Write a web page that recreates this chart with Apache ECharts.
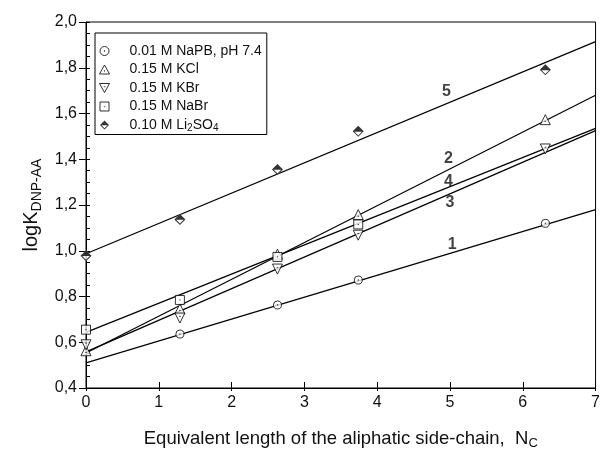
<!DOCTYPE html>
<html>
<head>
<meta charset="utf-8">
<script src="https://cdn.jsdelivr.net/npm/echarts@6/dist/echarts.min.js"></script>
<style>
  html, body { margin: 0; padding: 0; background: #fff; }
  #chart { width: 603px; height: 455px; }
</style>
</head>
<body>
<div id="chart"></div>
<script>
const names = ['0.01 M NaPB, pH 7.4', '0.15 M KCl', '0.15 M KBr', '0.15 M NaBr', '0.10 M Li2SO4']
const xNaPB = [1.29, 2.63, 3.74, 6.31]
const yNaPB = [0.636, 0.763, 0.872, 1.12]
const xKCl = [0, 1.29, 2.63, 3.74, 6.31]
const yKCl = [0.563, 0.746, 0.985, 1.158, 1.573]
const xKBr = [0, 1.29, 2.63, 3.74, 6.31]
const yKBr = [0.589, 0.706, 0.92, 1.068, 1.445]
const xNaBr = [0, 1.29, 2.63, 3.74]
const yNaBr = [0.655, 0.785, 0.973, 1.115]
const xLi = [0, 1.29, 2.63, 3.74, 6.31]
const yLi = [0.978, 1.137, 1.355, 1.522, 1.791]

// fitted straight lines: value at x = 0 and at x = 7
const fitX = [0, 7]
const fit1 = [0.51, 1.18]
const fit2 = [0.553, 1.68]
const fit3 = [0.558, 1.525]
const fit4 = [0.643, 1.535]
const fit5 = [0.987, 1.914]

// line numbers
const tagText = ['1', '2', '3', '4', '5']
const tagX = [5.03, 4.98, 5.0, 4.98, 4.95]
const tagY = [1.028, 1.403, 1.21, 1.304, 1.694]

const xTicks = [0, 7, 1]
const yTicks = [0.4, 2.0, 0.2]

const FONT = 'Liberation Sans, Arial, Helvetica, sans-serif'

// marker shapes (outline + small centre dot)
const symCircle = 'path://M5,0 A5,5 0 1,1 4.99,0 Z M5,4.6 A0.4,0.4 0 1,1 4.99,4.6 Z'
const symUp = 'path://M5,0 L10,9 L0,9 Z M5,5.6 L5.4,6 L5,6.4 L4.6,6 Z'
const symDown = 'path://M0,0 L10,0 L5,9 Z M5,2.6 L5.4,3 L5,3.4 L4.6,3 Z'
const symSquare = 'path://M0,0 L10,0 L10,10 L0,10 Z M5,4.6 L5.4,5 L5,5.4 L4.6,5 Z'
const symDiamond = 'path://M0,5 L5,0 L10,5 L5,10 Z'
// black upper half, open lower half
const symHalf = 'path://M0,5 L5,0 L10,5 L5,10 Z M1.6,5.3 L5,8.7 L8.4,5.3 Z'

const zip = (xs, ys) => xs.map((x, i) => [x, ys[i]])

const openItem = { color: '#fff', borderColor: '#000', borderWidth: 1 }

function pointSeries(name, xs, ys, symbol, size) {
  return {
    name: name,
    type: 'scatter',
    data: zip(xs, ys),
    symbol: symbol,
    symbolSize: size,
    itemStyle: openItem,
    z: 5,
    silent: true
  }
}

function fitSeries(ys) {
  return {
    type: 'line',
    data: zip(fitX, ys),
    symbol: 'none',
    lineStyle: { color: '#000', width: 1.2 },
    z: 3,
    silent: true
  }
}

const chart = echarts.init(document.getElementById('chart'), null, { renderer: 'canvas' })

const option = {
  animation: false,
  backgroundColor: '#fff',
  textStyle: { fontFamily: FONT },
  grid: {
    left: 86,
    right: 1,
    top: 22,
    bottom: 66,
    show: true,
    borderColor: '#000',
    borderWidth: 1
  },
  legend: {
    data: [
      { name: names[0], itemStyle: openItem },
      { name: names[1], itemStyle: openItem },
      { name: names[2], itemStyle: openItem },
      { name: names[3], itemStyle: openItem },
      { name: names[4], itemStyle: { color: '#000', borderWidth: 0 } }
    ],
    orient: 'vertical',
    left: 95,
    top: 33,
    padding: [11, 5, 1, 4],
    itemGap: 4.5,
    itemWidth: 40,
    itemHeight: 9,
    borderColor: '#000',
    borderWidth: 1,
    selectedMode: false,
    textStyle: {
      fontFamily: FONT,
      fontSize: 14,
      color: '#111',
      rich: {
        s: { fontSize: 10, padding: [7, 0, 0, 0] }
      }
    },
    formatter: function (n) {
      return n === names[4] ? '0.10 M Li{s|2}SO{s|4}' : n
    }
  },
  xAxis: [
    {
      type: 'value',
      min: xTicks[0],
      max: xTicks[1],
      interval: xTicks[2],
      position: 'bottom',
      name: 'Equivalent length of the aliphatic side-chain,  N{s|C}',
      nameLocation: 'middle',
      nameGap: 40,
      nameTextStyle: {
        fontFamily: FONT,
        fontSize: 18.5,
        color: '#111',
        rich: { s: { fontSize: 13, padding: [9, 0, 0, 0] } }
      },
      axisLine: { lineStyle: { color: '#000', width: 1 } },
      axisTick: { inside: true, length: 6, lineStyle: { color: '#000' } },
      axisLabel: { fontFamily: FONT, fontSize: 16, color: '#111', margin: 7 },
      splitLine: { show: false }
    },
    {
      type: 'value',
      min: xTicks[0],
      max: xTicks[1],
      interval: xTicks[2],
      position: 'bottom',
      axisLine: { show: false },
      axisTick: { inside: false, length: 3, lineStyle: { color: '#000' } },
      axisLabel: { show: false },
      splitLine: { show: false }
    }
  ],
  yAxis: [
    {
      type: 'value',
      min: yTicks[0],
      max: yTicks[1],
      interval: yTicks[2],
      name: 'logK{s|DNP-AA}',
      nameLocation: 'middle',
      nameRotate: 90,
      nameGap: 42,
      nameTextStyle: {
        fontFamily: FONT,
        fontSize: 20,
        color: '#111',
        rich: { s: { fontSize: 14, padding: [11, 0, 0, 0] } }
      },
      axisLine: { lineStyle: { color: '#000', width: 1 } },
      axisTick: { inside: false, length: 7, lineStyle: { color: '#000' } },
      axisLabel: {
        fontFamily: FONT,
        fontSize: 16,
        color: '#111',
        margin: 9,
        formatter: v => v.toFixed(1).replace('.', ',')
      },
      splitLine: { show: false }
    },
    {
      type: 'value',
      min: yTicks[0],
      max: yTicks[1],
      interval: yTicks[2],
      position: 'left',
      axisLine: { show: false },
      axisTick: { inside: true, length: 4, lineStyle: { color: '#000' } },
      minorTick: { show: true, splitNumber: 4, length: 4, lineStyle: { color: '#000' } },
      axisLabel: { show: false },
      splitLine: { show: false }
    }
  ],
  series: [
    fitSeries(fit1),
    fitSeries(fit2),
    fitSeries(fit3),
    fitSeries(fit4),
    fitSeries(fit5),
    pointSeries(names[0], xNaPB, yNaPB, symCircle, 8),
    pointSeries(names[1], xKCl, yKCl, symUp, 10),
    pointSeries(names[2], xKBr, yKBr, symDown, 10),
    pointSeries(names[3], xNaBr, yNaBr, symSquare, 9),
    // white lower half under the half-filled diamond
    {
      name: 'li-base',
      type: 'scatter',
      data: zip(xLi, yLi),
      symbol: symDiamond,
      symbolSize: 11,
      itemStyle: { color: '#fff', borderWidth: 0 },
      z: 5,
      silent: true
    },
    {
      name: names[4],
      type: 'scatter',
      data: zip(xLi, yLi),
      symbol: symHalf,
      symbolSize: 11,
      itemStyle: { color: '#000', borderWidth: 0 },
      z: 6,
      silent: true
    },
    {
      type: 'scatter',
      data: tagX.map((x, i) => ({ value: [x, tagY[i]], label: { formatter: tagText[i] } })),
      symbolSize: 1,
      itemStyle: { color: 'rgba(0,0,0,0)' },
      label: {
        show: true,
        position: 'inside',
        fontFamily: FONT,
        fontSize: 16,
        fontWeight: 'bold',
        color: '#111'
      },
      z: 7,
      silent: true
    }
  ]
}

chart.setOption(option)
window.onresize = () => {
  chart.resize()
}
</script>
</body>
</html>
